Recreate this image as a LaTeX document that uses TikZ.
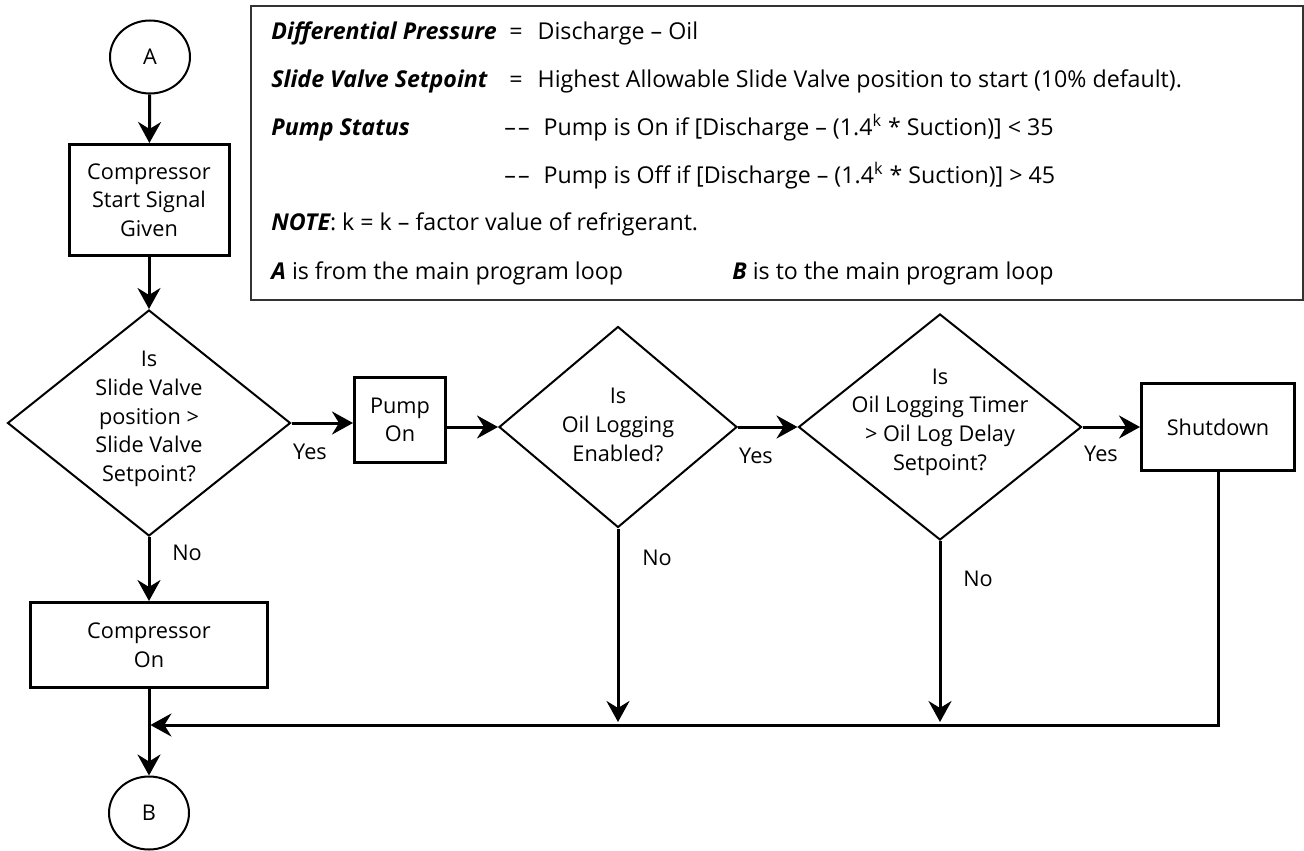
\documentclass[tikz,border=0pt]{standalone}
\usepackage{fontspec}
\setmainfont{Open Sans}
\newfontfamily\keyfont{Open Sans}
\usetikzlibrary{positioning, arrows.meta, shapes.geometric}

\begin{document}
\begin{tikzpicture}[
    x=0.5pt, y=-0.5pt,
    font=\fontsize{10.85}{14.3}\selectfont,
    terminal/.style={
        ellipse,
        draw=black,
        line width=1pt,
        minimum width=40pt,
        minimum height=36.5pt,
        inner sep=0pt
    },
    process/.style={
        rectangle,
        draw=black,
        line width=1.5pt,
        align=center,
        inner sep=2pt
    },
    decision/.style={
        diamond,
        draw=black,
        line width=1pt,
        inner sep=0pt
    },
    qtext/.style={
        align=center,
        font=\fontsize{10.85}{14.35}\selectfont
    },
    arr/.style={
        -{Stealth[length=10.5pt, width=11.5pt, inset=3.5pt]},
        line width=1.5pt
    },
    answer/.style={inner sep=0pt},
    legend/.style={anchor=base west, inner sep=0pt, font=\fontsize{11.6}{14.3}\selectfont},
    key/.style={legend, font=\keyfont\fontsize{11.6}{14.3}\selectfont\bfseries\itshape}
]
\useasboundingbox (0,0) rectangle (1304,850);

% --- Legend box ---
\node[draw=black!80, line width=1.2pt, minimum width=526pt, minimum height=147pt, anchor=north west] (legendbox) at (250,5) {};

\node[key] (kdiff) at (271,40) {Differential Pressure};
\node[legend] (vdiff) at (509,40) {=\hspace{7.5pt}Discharge -- Oil};
\node[key] (kslide) at (271,87.5) {Slide Valve Setpoint};
\node[legend] (vslide) at (509,87.5) {=\hspace{7.5pt}Highest Allowable Slide Valve position to start (10\% default).};
\node[key] (kpump) at (271,135.5) {Pump Status};
\node[legend] (vpumpon) at (504,135.5) {\textendash\kern1pt\textendash\hspace{7pt}Pump is On if [Discharge -- (1.4\textsuperscript{k} * Suction)] < 35};
\node[legend] (vpumpoff) at (504,183.5) {\textendash\kern1pt\textendash\hspace{7pt}Pump is Off if [Discharge -- (1.4\textsuperscript{k} * Suction)] > 45};
\node[legend] (note) at (271,230.5) {{\keyfont\bfseries\itshape NOTE}: k = k -- factor value of refrigerant.};
\node[legend] (froma) at (271,279.5) {{\keyfont\bfseries\itshape A} is from the main program loop};
\node[legend] (tob) at (732,279.5) {{\keyfont\bfseries\itshape B} is to the main program loop};

% --- Main column ---
\node[terminal] (startA) at (150,57) {A};
\node[process, minimum width=80pt, minimum height=55.5pt] (signal) at (149,200) {Compressor\\Start Signal\\Given};
\node[decision, minimum width=141.5pt, minimum height=113pt,
      label={[qtext, yshift=2pt]center:{Is\\Slide Valve\\position >\\Slide Valve\\Setpoint?}}] (slide) at (149,423) {};
\node[process, minimum width=118.5pt, minimum height=42.5pt] (comp) at (149,645) {Compressor\\On};
\node[terminal] (endB) at (149,813) {B};
\coordinate (merge) at (149,725);

% --- Oil logging row ---
\node[process, minimum width=45.5pt, minimum height=42.5pt] (pump) at (400,420) {Pump\\On};
\node[decision, minimum width=119pt, minimum height=100.5pt,
      label={[qtext, yshift=1pt]center:{Is\\Oil Logging\\Enabled?}}] (oillog) at (618,427) {};
\node[decision, minimum width=141.5pt, minimum height=113pt,
      label={[qtext, yshift=2.5pt]center:{Is\\Oil Logging Timer\\> Oil Log Delay\\Setpoint?}}] (timer) at (940,427) {};
\node[process, minimum width=76.5pt, minimum height=43.5pt] (shutdown) at (1218,427) {Shutdown};

\draw[arr] (startA) -- (signal);
\draw[arr] (signal) -- (slide);
\draw[arr] (slide.east) -- (slide.east -| pump.west);
\draw[arr] (pump.east |- oillog.west) -- (oillog.west);
\draw[arr] (oillog.east) -- (timer.west);
\draw[arr] (timer.east) -- (shutdown.west);
\draw[arr] (slide.south) -- (comp.north);
\draw[arr] (comp.south) -- (endB.north);

% --- Return to main loop ---
\draw[arr, shorten >=0.7pt] (shutdown.south) |- (merge);
\draw[arr, shorten >=1.5pt] (oillog.south) -- (oillog.south |- merge);
\draw[arr, shorten >=1.5pt] (timer.south) -- (timer.south |- merge);

% --- Answers ---
\node[answer] (yes1) at (310,452) {Yes};
\node[answer] (yes2) at (756,456) {Yes};
\node[answer] (yes3) at (1101,454) {Yes};
\node[answer] (no1) at (187,553) {No};
\node[answer] (no2) at (657,558) {No};
\node[answer] (no3) at (978,579) {No};

\end{tikzpicture}
\end{document}
